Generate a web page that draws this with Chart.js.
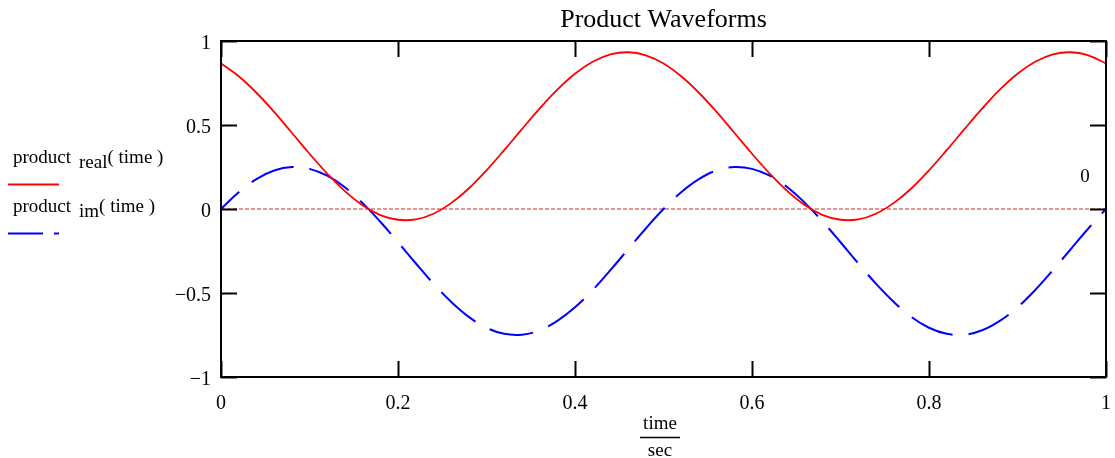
<!DOCTYPE html>
<html>
<head>
<meta charset="utf-8">
<title>Product Waveforms</title>
<script src="https://cdn.jsdelivr.net/npm/chart.js@4"></script>
<style>
  html, body { margin: 0; padding: 0; background: #fff; }
  #wrap { width: 1115px; height: 458px; position: relative; }
</style>
</head>
<body>
<div id="wrap"><canvas id="waveChart"></canvas></div>
<script>
// sample times (sec) and the two product waveforms
const timeValues = [
  0, 0.02, 0.04, 0.06, 0.08, 0.10, 0.12, 0.14, 0.16, 0.18,
  0.20, 0.22, 0.24, 0.26, 0.28, 0.30, 0.32, 0.34, 0.36, 0.38,
  0.40, 0.42, 0.44, 0.46, 0.48, 0.50, 0.52, 0.54, 0.56, 0.58,
  0.60, 0.62, 0.64, 0.66, 0.68, 0.70, 0.72, 0.74, 0.76, 0.78,
  0.80, 0.82, 0.84, 0.86, 0.88, 0.90, 0.92, 0.94, 0.96, 0.98, 1
];
const realValues = [
  0.866, 0.790, 0.692, 0.578, 0.454, 0.329, 0.211, 0.106, 0.022, -0.036,
  -0.064, -0.062, -0.028, 0.035, 0.122, 0.230, 0.350, 0.475, 0.597, 0.710,
  0.805, 0.876, 0.920, 0.933, 0.915, 0.866, 0.790, 0.692, 0.578, 0.454,
  0.329, 0.211, 0.106, 0.022, -0.036, -0.064, -0.062, -0.028, 0.035, 0.122,
  0.230, 0.350, 0.475, 0.597, 0.710, 0.805, 0.876, 0.920, 0.933, 0.915, 0.866
];
const imValues = [
  0, 0.100, 0.178, 0.229, 0.250, 0.239, 0.198, 0.129, 0.035, -0.076,
  -0.198, -0.323, -0.444, -0.552, -0.642, -0.707, -0.743, -0.748, -0.722, -0.666,
  -0.585, -0.482, -0.364, -0.240, -0.116, 0, 0.100, 0.178, 0.229, 0.250,
  0.239, 0.198, 0.129, 0.035, -0.076, -0.198, -0.323, -0.444, -0.552, -0.642,
  -0.707, -0.743, -0.748, -0.722, -0.666, -0.585, -0.482, -0.364, -0.240, -0.116, 0
];
const zeroLine = [0, 0];
const zeroLineTimes = [0, 1];

const xTicks = [0, 0.2, 0.4, 0.6, 0.8, 1];
const xTickLabels = ['0', '0.2', '0.4', '0.6', '0.8', '1'];
const yTicks = [-1, -0.5, 0, 0.5, 1];
const yTickLabels = ['\u22121', '\u22120.5', '0', '0.5', '1'];

const serif = "'Liberation Serif', 'Times New Roman', serif";

function toPoints(xs, ys) {
  return xs.map((x, i) => ({ x: x, y: ys[i] }));
}

// frame, inward ticks and the hand-set text around the plot
const decorations = {
  id: 'decorations',
  afterDraw(chart) {
    const ctx = chart.ctx;
    const area = chart.chartArea;
    const xs = chart.scales.x;
    const ys = chart.scales.y;
    const tickLen = 16;

    ctx.save();
    ctx.strokeStyle = '#000';
    ctx.lineWidth = 2;
    ctx.strokeRect(area.left, area.top, area.right - area.left, area.bottom - area.top);

    ctx.beginPath();
    xTicks.forEach(v => {
      const px = Math.round(xs.getPixelForValue(v)) + 0.5;
      ctx.moveTo(px, area.bottom); ctx.lineTo(px, area.bottom - tickLen);
      ctx.moveTo(px, area.top); ctx.lineTo(px, area.top + tickLen);
    });
    yTicks.forEach(v => {
      const py = Math.round(ys.getPixelForValue(v)) + 0.5;
      ctx.moveTo(area.left, py); ctx.lineTo(area.left + tickLen, py);
      ctx.moveTo(area.right, py); ctx.lineTo(area.right - tickLen, py);
    });
    ctx.stroke();

    ctx.fillStyle = '#000';
    ctx.textBaseline = 'alphabetic';

    // title
    ctx.font = '26px ' + serif;
    ctx.textAlign = 'center';
    ctx.fillText('Product Waveforms', (area.left + area.right) / 2, 27);

    // x axis label as a fraction
    ctx.font = '19px ' + serif;
    ctx.fillText('time', 660, 429);
    ctx.fillText('sec', 660, 456);
    ctx.beginPath();
    ctx.moveTo(640, 437.5); ctx.lineTo(680, 437.5);
    ctx.lineWidth = 1.5;
    ctx.stroke();

    // marker value on the zero line
    ctx.fillText('0', 1085, 182);

    // legend
    ctx.textAlign = 'left';
    function legendLabel(sub, y) {
      ctx.fillText('product', 13, y);
      ctx.fillText(sub, 79, y + 5);
      const w = ctx.measureText(sub).width;
      ctx.fillText('( time )', 79 + w, y);
    }
    legendLabel('real', 163);
    legendLabel('im', 212);

    ctx.lineWidth = 2;
    ctx.strokeStyle = '#ff0000';
    ctx.beginPath();
    ctx.moveTo(8, 184.5); ctx.lineTo(59, 184.5);
    ctx.stroke();

    ctx.strokeStyle = '#0000ff';
    ctx.setLineDash([35, 11]);
    ctx.beginPath();
    ctx.moveTo(8, 233.5); ctx.lineTo(59, 233.5);
    ctx.stroke();
    ctx.restore();
  }
};

new Chart(document.getElementById('waveChart'), {
  type: 'line',
  data: {
    datasets: [
      {
        label: 'product real(time)',
        data: toPoints(timeValues, realValues),
        borderColor: '#ff0000',
        borderWidth: 1.8,
        tension: 0.4,
        pointRadius: 0
      },
      {
        label: 'product im(time)',
        data: toPoints(timeValues, imValues),
        borderColor: '#0000ff',
        borderWidth: 2,
        borderDash: [45, 16],
        borderDashOffset: 20,
        tension: 0.4,
        pointRadius: 0
      },
      {
        label: 'zero',
        data: toPoints(zeroLineTimes, zeroLine),
        borderColor: '#c82828',
        borderWidth: 1,
        borderDash: [4, 2],
        pointRadius: 0
      }
    ]
  },
  options: {
    responsive: true,
    maintainAspectRatio: false,
    animation: false,
    devicePixelRatio: 1,
    layout: { padding: { left: 0, right: 9, top: 41, bottom: 0 } },
    plugins: {
      legend: { display: false },
      tooltip: { enabled: false },
      title: { display: false }
    },
    scales: {
      x: {
        type: 'linear',
        min: 0,
        max: 1,
        afterFit(scale) {
          scale.height = 81;
          scale.paddingLeft = 0;
          scale.paddingRight = 0;
        },
        afterBuildTicks(scale) { scale.ticks = xTicks.map(v => ({ value: v })); },
        grid: { display: false },
        border: { display: false },
        ticks: {
          padding: 7,
          color: '#000',
          font: { family: serif, size: 20 },
          maxRotation: 0,
          autoSkip: false,
          callback: (v) => xTickLabels[xTicks.indexOf(v)]
        }
      },
      y: {
        min: -1,
        max: 1,
        afterFit(scale) {
          scale.width = 221;
          scale.paddingTop = 0;
          scale.paddingBottom = 0;
        },
        afterBuildTicks(scale) { scale.ticks = yTicks.map(v => ({ value: v })); },
        grid: { display: false },
        border: { display: false },
        ticks: {
          padding: 2,
          labelOffset: 3,
          color: '#000',
          font: { family: serif, size: 20 },
          autoSkip: false,
          callback: (v) => yTickLabels[yTicks.indexOf(v)]
        }
      }
    }
  },
  plugins: [decorations]
});
</script>
</body>
</html>
